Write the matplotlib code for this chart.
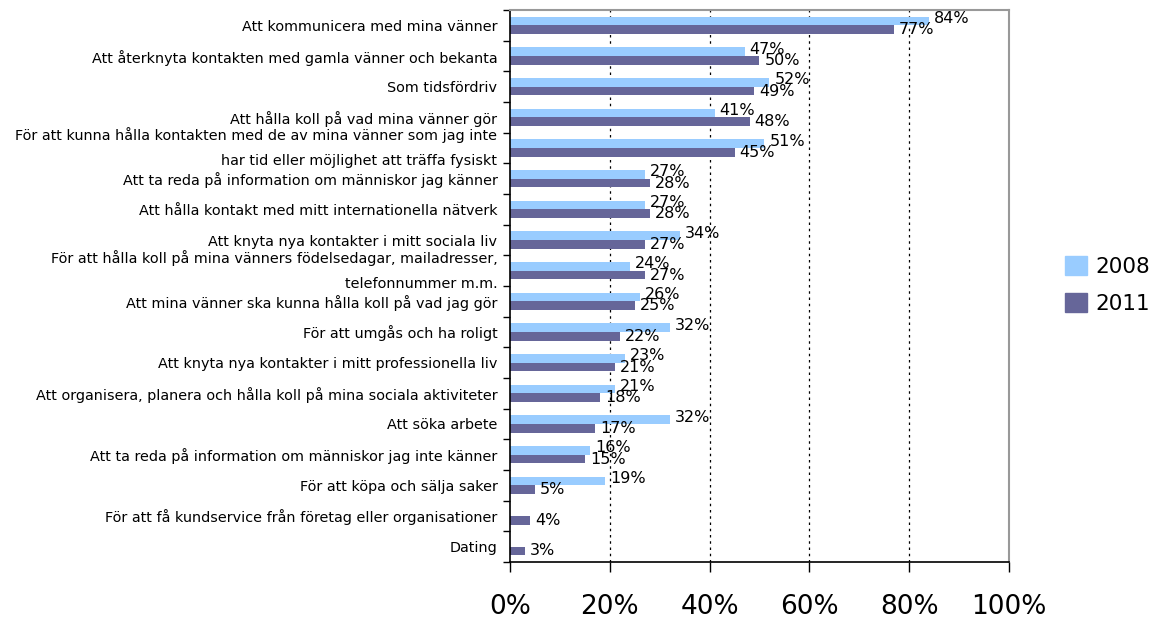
import numpy as np
import matplotlib.pyplot as plt
from matplotlib.ticker import FixedLocator

# Survey answers, top to bottom
categories = [
    "Att kommunicera med mina vänner",
    "Att återknyta kontakten med gamla vänner och bekanta",
    "Som tidsfördriv",
    "Att hålla koll på vad mina vänner gör",
    "För att kunna hålla kontakten med de av mina vänner som jag inte\nhar tid eller möjlighet att träffa fysiskt",
    "Att ta reda på information om människor jag känner",
    "Att hålla kontakt med mitt internationella nätverk",
    "Att knyta nya kontakter i mitt sociala liv",
    "För att hålla koll på mina vänners födelsedagar, mailadresser,\ntelefonnummer m.m.",
    "Att mina vänner ska kunna hålla koll på vad jag gör",
    "För att umgås och ha roligt",
    "Att knyta nya kontakter i mitt professionella liv",
    "Att organisera, planera och hålla koll på mina sociala aktiviteter",
    "Att söka arbete",
    "Att ta reda på information om människor jag inte känner",
    "För att köpa och sälja saker",
    "För att få kundservice från företag eller organisationer",
    "Dating",
]
v2008 = [84, 47, 52, 41, 51, 27, 27, 34, 24, 26, 32, 23, 21, 32, 16, 19, None, None]
v2011 = [77, 50, 49, 48, 45, 28, 28, 27, 27, 25, 22, 21, 18, 17, 15, 5, 4, 3]
xticks = [0, 20, 40, 60, 80, 100]

c2008 = "#99ccff"
c2011 = "#666699"

fig = plt.figure(figsize=(11.53, 6.19), dpi=100)
ax = fig.add_axes([0.4423, 0.0921, 0.4328, 0.8917])

n = len(categories)
y = np.arange(n)
h = 0.283

for i in range(n):
    if v2008[i] is not None:
        ax.barh(y[i] - h / 2, v2008[i], height=h, color=c2008, zorder=2)
        ax.text(v2008[i] + 1.0, y[i] - h / 2 - 0.08, f"{v2008[i]}%",
                va="center", ha="left", fontsize=11.5, zorder=3)
    ax.barh(y[i] + h / 2, v2011[i], height=h, color=c2011, zorder=2)
    ax.text(v2011[i] + 1.0, y[i] + h / 2 + 0.0, f"{v2011[i]}%",
            va="center", ha="left", fontsize=11.5, zorder=3)

ax.set_xlim(0, 100)
ax.set_ylim(n - 0.5, -0.5)

ax.set_xticks(xticks)
ax.set_xticklabels([f"{t}%" for t in xticks], fontsize=19)
ax.tick_params(axis="x", length=7, width=1, pad=16, color="black")

ax.set_yticks(y)
ax.set_yticklabels(categories, fontsize=10.4)
ax.tick_params(axis="y", which="major", length=0, pad=9)
for lbl in ax.get_yticklabels():
    if "\n" in lbl.get_text():
        lbl.set_linespacing(2.0)
        lbl.set_verticalalignment("center")
        lbl.set_multialignment("right")
ax.yaxis.set_minor_locator(FixedLocator(np.arange(-0.5, n, 1.0)))
ax.tick_params(axis="y", which="minor", length=5, width=1, color="black")

for t in xticks[1:-1]:
    ax.axvline(t, color="black", linestyle=(0, (2, 3)), linewidth=0.9, zorder=1)

ax.spines["left"].set_color("black")
ax.spines["bottom"].set_color("black")
ax.spines["left"].set_linewidth(1.2)
ax.spines["bottom"].set_linewidth(1.2)
ax.spines["top"].set_color("#999999")
ax.spines["right"].set_color("#999999")
ax.spines["top"].set_linewidth(1.5)
ax.spines["right"].set_linewidth(1.5)

# legend on the right side
handles = [plt.Rectangle((0, 0), 1, 1, color=c2008),
           plt.Rectangle((0, 0), 1, 1, color=c2011)]
fig.legend(handles, ["2008", "2011"], loc="center left",
           bbox_to_anchor=(0.907, 0.54), frameon=False, fontsize=15.5,
           handlelength=1.0, handleheight=1.0, handletextpad=0.4,
           labelspacing=0.75)

fig.savefig("out.png", dpi=100)
